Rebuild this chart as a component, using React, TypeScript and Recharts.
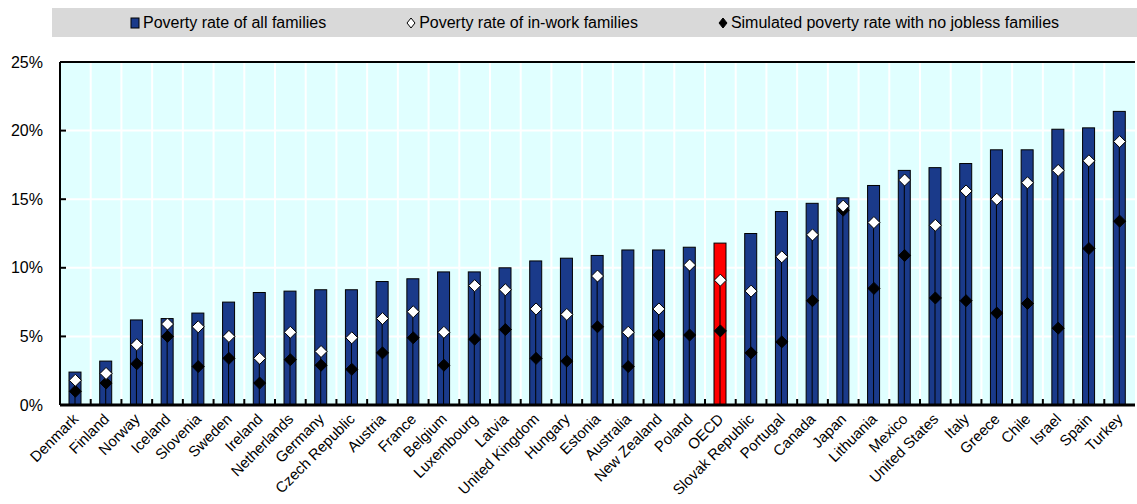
import React from "react";
import { ComposedChart, Bar, Cell, Scatter, XAxis, YAxis, CartesianGrid, ReferenceLine } from "recharts";

const countries = [
  "Denmark", "Finland", "Norway", "Iceland", "Slovenia", "Sweden", "Ireland", "Netherlands", "Germany",
  "Czech Republic", "Austria", "France", "Belgium", "Luxembourg", "Latvia", "United Kingdom", "Hungary",
  "Estonia", "Australia", "New Zealand", "Poland", "OECD", "Slovak Republic", "Portugal", "Canada", "Japan",
  "Lithuania", "Mexico", "United States", "Italy", "Greece", "Chile", "Israel", "Spain", "Turkey",
];
const allFamilies = [
  2.4, 3.2, 6.2, 6.3, 6.7, 7.5, 8.2, 8.3, 8.4, 8.4, 9.0, 9.2, 9.7, 9.7, 10.0, 10.5, 10.7,
  10.9, 11.3, 11.3, 11.5, 11.8, 12.5, 14.1, 14.7, 15.1, 16.0, 17.1, 17.3, 17.6, 18.6, 18.6, 20.1, 20.2, 21.4,
];
const inWorkFamilies = [
  1.8, 2.3, 4.4, 5.9, 5.7, 5.0, 3.4, 5.3, 3.9, 4.9, 6.3, 6.8, 5.3, 8.7, 8.4, 7.0, 6.6,
  9.4, 5.3, 7.0, 10.2, 9.1, 8.3, 10.8, 12.4, 14.5, 13.3, 16.4, 13.1, 15.6, 15.0, 16.2, 17.1, 17.8, 19.2,
];
const noJoblessFamilies = [
  1.0, 1.6, 3.0, 5.0, 2.8, 3.4, 1.6, 3.3, 2.9, 2.6, 3.8, 4.9, 2.9, 4.8, 5.5, 3.4, 3.2,
  5.7, 2.8, 5.1, 5.1, 5.4, 3.8, 4.6, 7.6, 14.2, 8.5, 10.9, 7.8, 7.6, 6.7, 7.4, 5.6, 11.4, 13.4,
];
const yTicks = [0, 5, 10, 15, 20, 25];

const data = countries.map((name, i) => ({
  name,
  all: allFamilies[i],
  inWork: inWorkFamilies[i],
  noJobless: noJoblessFamilies[i],
}));

const W = 1137;
const H = 504;
const M = { top: 62, right: 2, bottom: 0, left: 0 };
const Y_AXIS_W = 60;
const X_AXIS_H = 99;
const BAND = (W - Y_AXIS_W - M.right) / countries.length;
const NAVY = "#1a3a8a";
const FONT = "'Liberation Sans', Arial, sans-serif";

const BarShape = (props: any) => {
  const { x, y, width, height, fill, payload } = props;
  const cx = x + width / 2;
  const lineTop = y + height * (1 - payload.inWork / payload.all);
  return (
    <g>
      <rect x={x} y={y} width={width} height={height} fill={fill} stroke="#000" strokeWidth={1} />
      <line x1={cx} x2={cx} y1={lineTop} y2={y + height} stroke="#000" strokeWidth={1} />
    </g>
  );
};

const Diamond = (fill: string) => (props: any) => {
  const { cx, cy } = props;
  const r = 6;
  return (
    <polygon
      points={`${cx},${cy - r} ${cx + r},${cy} ${cx},${cy + r} ${cx - r},${cy}`}
      fill={fill}
      stroke="#000"
      strokeWidth={1}
    />
  );
};

const XTick = (props: any) => {
  const { x, y, payload } = props;
  const lx = x - BAND / 2;
  const tx = x + 4;
  const ty = y + 15;
  return (
    <g>
      <line x1={lx} x2={lx} y1={y} y2={y - 6} stroke="#000" strokeWidth={2} />
      <text
        x={tx}
        y={ty}
        transform={`rotate(-45 ${tx} ${ty})`}
        textAnchor="end"
        fontSize={15}
        fontFamily={FONT}
        fill="#000"
      >
        {payload.value}
      </text>
    </g>
  );
};

const YTick = (props: any) => {
  const { x, y, payload } = props;
  return (
    <g>
      <line x1={x} x2={x + 6} y1={y} y2={y} stroke="#000" strokeWidth={2} />
      <text x={x - 17} y={y} dy="0.35em" textAnchor="end" fontSize={16} fontFamily={FONT} fill="#000">
        {payload.value}%
      </text>
    </g>
  );
};

const legendItems = [
  { label: "Poverty rate of all families", kind: "square" },
  { label: "Poverty rate of in-work families", kind: "white" },
  { label: "Simulated poverty rate with no jobless families", kind: "black" },
];

const LegendIcon = ({ kind }: { kind: string }) =>
  kind === "square" ? (
    <svg width={10} height={12}>
      <rect x={1} y={1} width={8} height={10} fill={NAVY} stroke="#000" strokeWidth={1} />
    </svg>
  ) : (
    <svg width={10} height={12}>
      <polygon points="5,1 9,6 5,11 1,6" fill={kind === "white" ? "#fff" : "#000"} stroke="#000" strokeWidth={1} />
    </svg>
  );

export default function App() {
  return (
    <div style={{ position: "absolute", left: 0, top: 0, width: W, height: H, background: "#fff" }}>
      <div
        style={{
          position: "absolute",
          left: 52,
          top: 8,
          width: W - 52,
          height: 29,
          background: "#d9d9d9",
          display: "flex",
          alignItems: "center",
          justifyContent: "center",
          gap: 80,
          fontFamily: FONT,
          fontSize: 16,
          color: "#000",
        }}
      >
        {legendItems.map((it) => (
          <div key={it.label} style={{ display: "flex", alignItems: "center", gap: 3 }}>
            <LegendIcon kind={it.kind} />
            <span>{it.label}</span>
          </div>
        ))}
      </div>
      <ComposedChart width={W} height={H} data={data} margin={M} barCategoryGap={0}>
        <CartesianGrid
          fill="#e0ffff"
          stroke="#fff"
          strokeWidth={2}
          verticalCoordinatesGenerator={({ offset }: any) =>
            countries.map((_, i) => offset.left + (i * offset.width) / countries.length)
          }
        />
        <XAxis
          dataKey="name"
          interval={0}
          height={X_AXIS_H}
          tickSize={0}
          tickMargin={0}
          tickLine={false}
          axisLine={{ stroke: "#000", strokeWidth: 3 }}
          tick={<XTick />}
        />
        <YAxis
          domain={[0, 25]}
          ticks={yTicks}
          width={Y_AXIS_W}
          tickSize={0}
          tickMargin={0}
          tickLine={false}
          axisLine={{ stroke: "#000", strokeWidth: 2 }}
          tick={<YTick />}
        />
        <ReferenceLine y={25} stroke="#000" strokeWidth={2} />
        <Bar dataKey="all" barSize={12} isAnimationActive={false} shape={<BarShape />}>
          {data.map((d) => (
            <Cell key={d.name} fill={d.name === "OECD" ? "#ff0000" : NAVY} />
          ))}
        </Bar>
        <Scatter dataKey="noJobless" isAnimationActive={false} shape={Diamond("#000")} />
        <Scatter dataKey="inWork" isAnimationActive={false} shape={Diamond("#fff")} />
      </ComposedChart>
    </div>
  );
}
